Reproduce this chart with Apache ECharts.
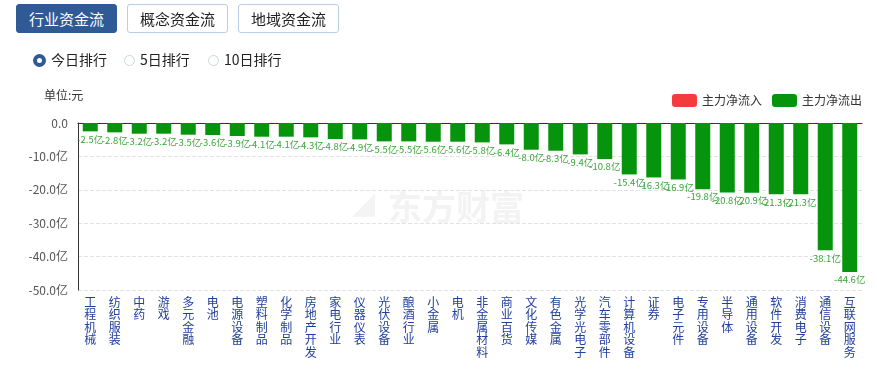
<!DOCTYPE html>
<html><head><meta charset="utf-8">
<script src="https://cdn.jsdelivr.net/npm/echarts@6/dist/echarts.min.js"></script>
<style>
html,body{margin:0;padding:0;background:#fff;font-family:"Microsoft YaHei","Noto Sans CJK SC",sans-serif;}
#chart{position:absolute;left:0;top:0;width:877px;height:369px;}
.btn{position:absolute;top:4px;height:29px;width:101px;box-sizing:border-box;border:1px solid #b9cde4;border-radius:3px;background:#fff;color:#222;font-size:15px;line-height:27px;text-align:center;}
.btn.on{background:#2f5a96;border-color:#2f5a96;color:#fff;}
.radio{position:absolute;top:50px;font-size:14px;color:#222;line-height:18px;}
.radio i{display:inline-block;width:11px;height:11px;border-radius:50%;border:1px solid #c9d3df;vertical-align:-1px;margin-right:5px;box-sizing:border-box;}
.radio i.on{border:4px solid #2f5a96;width:13px;height:13px;vertical-align:-2px;}
</style></head>
<body>
<div id="chart"></div>
<div class="btn on" style="left:16px;">行业资金流</div>
<div class="btn" style="left:127px;">概念资金流</div>
<div class="btn" style="left:238px;">地域资金流</div>
<div class="radio" style="left:33px;"><i class="on"></i>今日排行</div>
<div class="radio" style="left:124px;"><i></i>5日排行</div>
<div class="radio" style="left:208px;"><i></i>10日排行</div>
<script>
const categories = ['工程机械','纺织服装','中药','游戏','多元金融','电池','电源设备','塑料制品','化学制品','房地产开发','家电行业','仪器仪表','光伏设备','酿酒行业','小金属','电机','非金属材料','商业百货','文化传媒','有色金属','光学光电子','汽车零部件','计算机设备','证券','电子元件','专用设备','半导体','通用设备','软件开发','消费电子','通信设备','互联网服务'];
const outflow = [-2.5,-2.8,-3.2,-3.2,-3.5,-3.6,-3.9,-4.1,-4.1,-4.3,-4.8,-4.9,-5.5,-5.5,-5.6,-5.6,-5.8,-6.4,-8.0,-8.3,-9.4,-10.8,-15.4,-16.3,-16.9,-19.8,-20.8,-20.9,-21.3,-21.3,-38.1,-44.6];
const inflow = [];
const yTicks = [0,-10,-20,-30,-40,-50];

const chart = echarts.init(document.getElementById('chart'));
chart.setOption({
  animation:false,
  grid:{left:78,right:15,top:123,bottom:79,containLabel:false},
  graphic:[
    {type:'text',left:44,top:89,style:{text:'单位:元',fontSize:12,fill:'#333',fontFamily:'Noto Sans CJK SC'}},
    {type:'text',left:388,top:190,z:-1,style:{text:'东方财富',fontSize:34,fontWeight:'bold',fill:'#f3f3f3',fontFamily:'Noto Sans CJK SC'}},
    {type:'text',left:352,top:190,z:-1,style:{text:'◢',fontSize:30,fill:'#f4f4f4'}}
  ],
  legend:{right:10,top:89,itemWidth:25,itemHeight:13,itemGap:10,
    textStyle:{fontSize:12,color:'#333',fontFamily:'Noto Sans CJK SC'},
    data:['主力净流入','主力净流出']},
  xAxis:[{type:'category',data:categories,position:'bottom',
    axisLine:{show:false},axisTick:{show:false},
    axisLabel:{interval:0,margin:6,color:'#22409c',fontSize:12,lineHeight:12.5,verticalAlign:'top',
      fontFamily:'Noto Sans CJK SC',formatter:v=>v.split('').join('\n')}},
    {type:'category',data:categories,position:'top',
    axisLine:{show:true,onZero:false,lineStyle:{color:'#333',width:1}},axisTick:{show:false},axisLabel:{show:false}}],
  yAxis:{type:'value',min:-50,max:0,interval:10,
    axisLine:{show:true,lineStyle:{color:'#333'}},axisTick:{show:false},
    splitLine:{lineStyle:{type:'dashed',color:'#e3e3e3'}},
    axisLabel:{color:'#555',fontSize:12,margin:10,fontFamily:'Noto Sans CJK SC',
      formatter:v=>v===0?'0.0':v.toFixed(1)+'亿'}},
  series:[
    {name:'主力净流入',type:'bar',stack:'a',data:inflow,itemStyle:{color:'#f53c3c',borderRadius:3}},
    {name:'主力净流出',type:'bar',stack:'a',data:outflow,barWidth:15,
      itemStyle:{color:'#05940b',borderRadius:0},
      label:{show:true,position:'bottom',distance:3,color:'#3aa53a',fontSize:9.5,fontFamily:'Noto Sans CJK SC',
        formatter:p=>p.value.toFixed(1)+'亿'}}
  ]
});
</script>
</body></html>
